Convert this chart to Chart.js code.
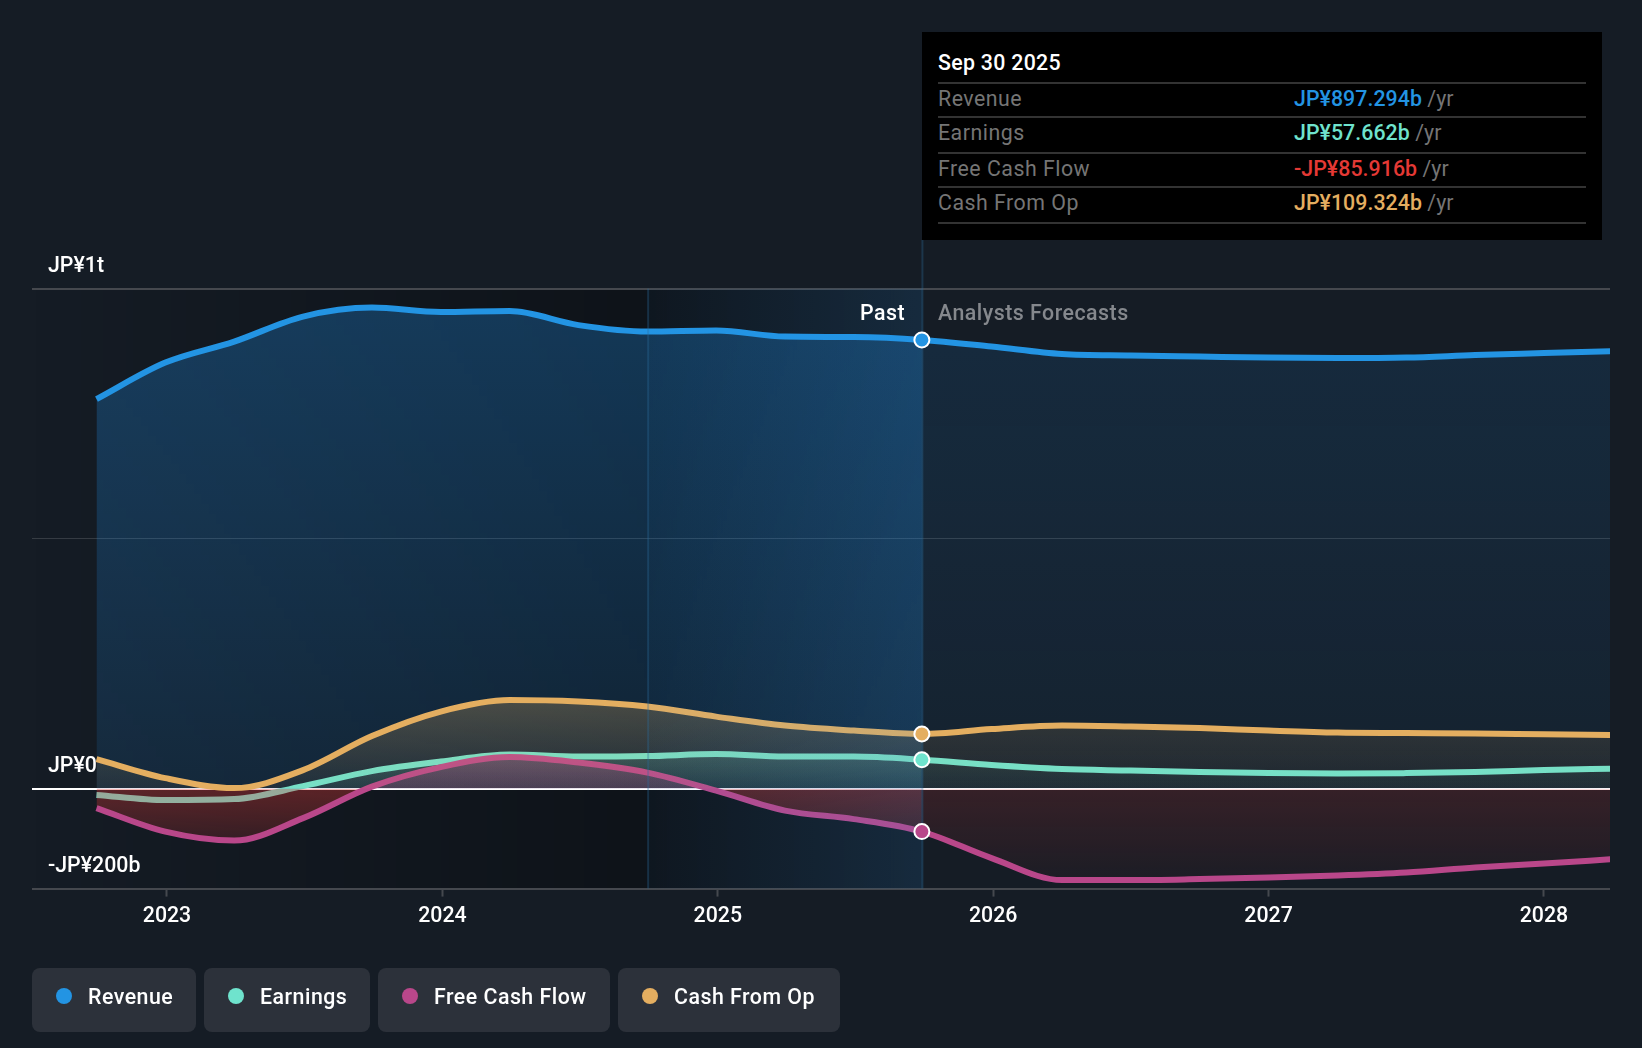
<!DOCTYPE html>
<html>
<head>
<meta charset="utf-8">
<title>Past and forecast</title>
<script src="https://cdn.jsdelivr.net/npm/chart.js@4"></script>
<style>
    html, body { margin: 0; padding: 0; background: #151c25; width: 1642px; height: 1048px; overflow: hidden; font-family: Roboto, sans-serif; }
    #myChart { position: absolute; left: 0; top: 0; }
    #tip { position: absolute; left: 922px; top: 32px; width: 680px; height: 208px; background: #000; }
    #tip .head { position: absolute; left: 16px; top: 18px; font-size: 21.33px; line-height: 26px; font-weight: 500; letter-spacing: 0.3px; color: #fff; }
    #tip .rule { position: absolute; left: 16px; width: 648px; height: 2px; background: #333; }
    #tip .name { position: absolute; left: 16px; font-size: 21.33px; line-height: 26px; letter-spacing: 0.5px; color: #757575; }
    #tip .val { position: absolute; left: 372px; font-size: 21.33px; line-height: 26px; font-weight: 500; letter-spacing: 0.05px; }
    #tip .val span { color: #757575; font-weight: 400; }
    .note { position: absolute; top: 300px; font-size: 21.33px; line-height: 26px; letter-spacing: 0.5px; }
    #legend { position: absolute; left: 32px; top: 968px; display: flex; gap: 8px; }
    .chip { height: 64px; background: #2c313a; border-radius: 8px; display: flex; align-items: center; box-sizing: border-box; padding: 0 0 0 24px; color: #fff; font-size: 21.33px; font-weight: 500; letter-spacing: 0.5px; }
    .chip i { width: 16px; height: 16px; border-radius: 50%; margin-right: 16px; margin-top: -8px; }
    .chip b { font-weight: 500; position: relative; top: -4px; }
</style>
</head>
<body>
<canvas id="myChart" width="1642" height="1048"></canvas>
<div class="note" style="right:737px;color:#fff;font-weight:500">Past</div>
<div class="note" style="left:938px;color:#85888d;font-weight:500">Analysts Forecasts</div>
<div id="tip"></div>
<div id="legend"></div>
<script>
// quarter ends, as decimal years
var dates = [2022.744, 2022.994, 2023.244, 2023.494, 2023.744, 2023.994, 2024.244, 2024.494, 2024.744, 2024.994, 2025.244, 2025.494, 2025.741,
    2025.994, 2026.25, 2026.5, 2026.75, 2027.0, 2027.25, 2027.5, 2027.75, 2028.0, 2028.25];
var focus = 12;

// JP¥ billions
var revenue = [779, 852, 894, 944, 962, 953, 955, 927, 914, 916, 904, 903, 897.294,
    884, 869, 866, 864, 862, 861, 862, 867, 871, 875];
var earnings = [-12.6, -23, -21, 5, 35, 54, 68, 64, 65, 69, 64, 64, 57.662,
    47, 39, 36, 33, 31, 30, 31, 33, 37, 40];
var freeCashFlow = [-39, -86, -104, -59, 4, 43, 63, 52, 32, -4, -44, -61, -85.916,
    -139, -183, -183, -181, -178, -174, -168, -158, -150, -141];
var cashFromOp = [59, 21, 1, 37, 105, 154, 177, 174, 164, 144, 126, 116, 109.324,
    119, 126, 124, 121, 116, 112, 111, 110, 108.5, 107];

var yearTicks = [2023, 2024, 2025, 2026, 2027, 2028];
var valueTicks = [-200, 0, 500, 1000];
var valueLabels = {"-200": "-JP¥200b", "0": "JP¥0", "500": "", "1000": "JP¥1t"};

var names = ["Revenue", "Earnings", "Free Cash Flow", "Cash From Op"];
var colors = ["#2394e3", "#6fe3cd", "#b9478a", "#e4ae60"];
var chipWidths = [164, 166, 232, 222];
var tipValues = ["JP¥897.294b", "JP¥57.662b", "-JP¥85.916b", "JP¥109.324b"];
var tipColors = ["#2394e3", "#6fe3cd", "#e53935", "#e4ae60"];
var tipDate = "Sep 30 2025";

var bandStart = 2024.747;
var pastEnd = 2025.743;

// tooltip panel
var tip = document.getElementById("tip");
var html = '<div class="head">' + tipDate + '</div><div class="rule" style="top:50px"></div>';
var rowTops = [54, 88, 124, 158];
var ruleTops = [84, 120, 154, 190];
names.forEach(function(n, i){
    html += '<div class="name" style="top:' + rowTops[i] + 'px">' + n + '</div>';
    html += '<div class="val" style="top:' + rowTops[i] + 'px;color:' + tipColors[i] + '">' + tipValues[i] + ' <span>/yr</span></div>';
    html += '<div class="rule" style="top:' + ruleTops[i] + 'px"></div>';
});
tip.innerHTML = html;

// legend chips
var legend = document.getElementById("legend");
names.forEach(function(n, i){
    legend.innerHTML += '<div class="chip" style="width:' + chipWidths[i] + 'px"><i style="background:' + colors[i] + '"></i><b>' + n + '</b></div>';
});

function vGrad(chart, stops){
    var y = chart.scales.y;
    var top = stops[0][0], bottom = stops[stops.length - 1][0];
    var g = chart.ctx.createLinearGradient(0, y.getPixelForValue(top), 0, y.getPixelForValue(bottom));
    stops.forEach(function(s){ g.addColorStop((top - s[0]) / (top - bottom), s[1]); });
    return g;
}

// area fills, stronger in the past than in the forecast
var fills = {
    revenue: {
        past: [[1000, "rgba(33,150,243,0.29)"], [0, "rgba(33,150,243,0.12)"]],
        future: [[1000, "rgba(33,150,243,0.13)"], [0, "rgba(33,150,243,0.05)"]]
    },
    earnings: {
        past: [[70, "rgba(111,227,205,0.2)"], [0, "rgba(111,227,205,0.08)"], [-0.01, "rgba(111,227,205,0)"], [-30, "rgba(111,227,205,0)"]],
        future: [[70, "rgba(111,227,205,0.09)"], [0, "rgba(111,227,205,0.04)"], [-0.01, "rgba(111,227,205,0)"], [-30, "rgba(111,227,205,0)"]]
    },
    fcf: {
        past: [[70, "rgba(185,71,138,0.35)"], [0, "rgba(185,71,138,0.25)"], [-0.01, "rgba(229,57,53,0.35)"], [-110, "rgba(229,57,53,0.15)"]],
        future: [[70, "rgba(185,71,138,0.2)"], [0, "rgba(185,71,138,0.1)"], [-0.01, "rgba(229,57,53,0.16)"], [-190, "rgba(229,57,53,0.03)"]]
    },
    cash: {
        past: [[180, "rgba(228,174,96,0.27)"], [0, "rgba(228,174,96,0.06)"]],
        future: [[180, "rgba(228,174,96,0.16)"], [0, "rgba(228,174,96,0.04)"]]
    }
};

// same gradient object for every segment, so Chart.js merges them and leaves no seams
var gradCache = {};
function fillFor(chart, key, part){
    var id = key + part;
    if (!gradCache[id]) gradCache[id] = vGrad(chart, fills[key][part]);
    return gradCache[id];
}

function line(label, values, color, fillKey, order){
    return {
        label: label,
        data: values.map(function(v, i){ return {x: dates[i], y: v}; }),
        borderColor: color,
        borderWidth: 6,
        pointRadius: 0,
        cubicInterpolationMode: "monotone",
        fill: "origin",
        backgroundColor: "transparent",
        order: order,
        segment: {
            backgroundColor: function(ctx){
                if (!ctx.chart.chartArea) return "transparent";
                return fillFor(ctx.chart, fillKey, ctx.p0.parsed.x >= dates[focus] ? "future" : "past");
            }
        }
    };
}

// dims the past behind everything
var darkPlugin = {
    id: "dark",
    beforeDraw: function(chart){
        var a = chart.chartArea, x = chart.scales.x, c = chart.ctx;
        var x1 = x.getPixelForValue(bandStart), x2 = x.getPixelForValue(pastEnd);
        var g = c.createLinearGradient(a.left, 0, x2, 0);
        var mid = (x1 - a.left) / (x2 - a.left);
        g.addColorStop(0, "rgba(0,0,0,0)");
        g.addColorStop(mid, "rgba(0,0,0,0.32)");
        g.addColorStop(1, "rgba(0,0,0,0)");
        c.save();
        c.fillStyle = g;
        c.fillRect(a.left, a.top, x2 - a.left, a.bottom - a.top);
        c.restore();
    }
};

// blue band over the last year of the past, under the markers
var bandPlugin = {
    id: "band",
    afterDatasetDraw: function(chart, args){
        if (args.index !== 3) return;
        var a = chart.chartArea, x = chart.scales.x, c = chart.ctx;
        var x1 = x.getPixelForValue(bandStart), x2 = x.getPixelForValue(pastEnd);
        var g = c.createLinearGradient(x1, 0, x2, 0);
        g.addColorStop(0, "rgba(33,150,243,0.03)");
        g.addColorStop(1, "rgba(33,150,243,0.12)");
        c.save();
        c.fillStyle = g;
        c.fillRect(x1, a.top, x2 - x1, a.bottom - a.top);
        c.fillStyle = "rgba(45,110,155,0.32)";
        c.fillRect(x1 - 1, a.top, 2, a.bottom - a.top);
        c.fillRect(x2 - 1, 240, 2, a.bottom - 240);
        c.restore();
    }
};

var series = [revenue, earnings, freeCashFlow, cashFromOp];

var myChart = new Chart(document.getElementById("myChart").getContext("2d"), {
    type: "line",
    data: {
        datasets: [
            line(names[0], revenue, colors[0], "revenue", 5),
            line(names[1], earnings, colors[1], "earnings", 4),
            line(names[2], freeCashFlow, colors[2], "fcf", 3),
            line(names[3], cashFromOp, colors[3], "cash", 2),
            {
                label: "focus",
                data: series.map(function(s){ return {x: dates[focus], y: s[focus]}; }),
                showLine: false,
                pointRadius: 7.5,
                pointBorderWidth: 2,
                pointBorderColor: "#fff",
                pointBackgroundColor: colors,
                order: 1
            }
        ]
    },
    options: {
        responsive: false,
        animation: false,
        layout: { padding: { left: 32, right: 32, top: 288.6, bottom: 0 } },
        plugins: { legend: { display: false }, tooltip: { enabled: false } },
        events: [],
        scales: {
            x: {
                type: "linear",
                min: 2022.5098,
                max: 2028.2397,
                afterBuildTicks: function(axis){ axis.ticks = yearTicks.map(function(v){ return {value: v}; }); },
                afterFit: function(axis){ axis.height = 159.4; },
                border: { display: false },
                grid: { drawOnChartArea: false, drawTicks: true, tickLength: 8, tickWidth: 2, tickColor: "#45484e" },
                ticks: {
                    color: "#fff",
                    padding: 7,
                    maxRotation: 0,
                    autoSkip: false,
                    font: { family: "Roboto", size: 21.33, weight: "500" },
                    callback: function(v){ return String(v); }
                }
            },
            y: {
                type: "linear",
                min: -200,
                max: 1000,
                afterBuildTicks: function(axis){ axis.ticks = valueTicks.map(function(v){ return {value: v}; }); },
                afterFit: function(axis){ axis.width = 0; },
                border: { display: false },
                grid: {
                    drawTicks: false,
                    lineWidth: function(ctx){ return ctx.tick && ctx.tick.value === 500 ? 1 : 2; },
                    color: function(ctx){
                        var v = ctx.tick && ctx.tick.value;
                        if (v === 0) return "#ffffff";
                        if (v === 500) return "rgba(255,255,255,0.14)";
                        return "#45484e";
                    }
                },
                ticks: {
                    mirror: true,
                    padding: 16,
                    labelOffset: -22,
                    color: "#fff",
                    autoSkip: false,
                    font: { family: "Roboto", size: 21.33, weight: "500" },
                    callback: function(v){ return valueLabels[v]; }
                }
            }
        }
    },
    plugins: [darkPlugin, bandPlugin]
});
</script>
</body>
</html>
